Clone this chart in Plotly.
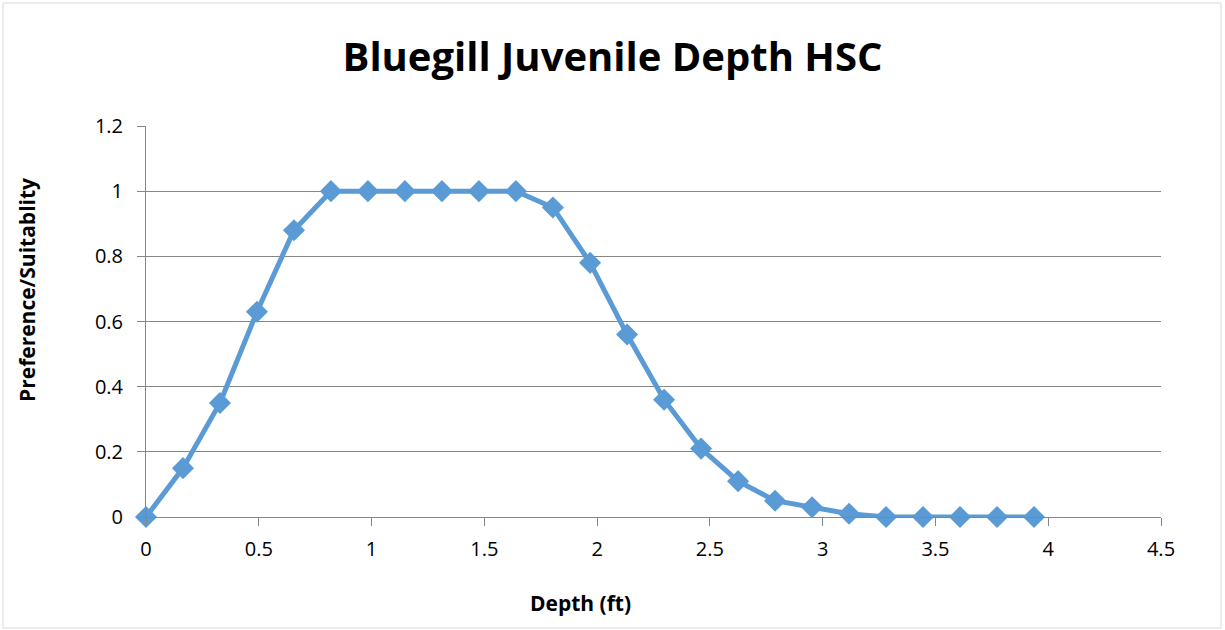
import plotly.graph_objects as go

depth_ft = [0.0, 0.164, 0.328, 0.492, 0.656, 0.820, 0.984, 1.148, 1.312, 1.476,
            1.640, 1.804, 1.969, 2.133, 2.297, 2.461, 2.625, 2.789, 2.953, 3.117,
            3.281, 3.445, 3.609, 3.773, 3.937]
suitability = [0.0, 0.15, 0.35, 0.63, 0.88, 1.0, 1.0, 1.0, 1.0, 1.0,
               1.0, 0.95, 0.78, 0.56, 0.36, 0.21, 0.11, 0.05, 0.03, 0.01,
               0.0, 0.0, 0.0, 0.0, 0.0]
x_ticks = [0, 0.5, 1, 1.5, 2, 2.5, 3, 3.5, 4, 4.5]
y_ticks = [0, 0.2, 0.4, 0.6, 0.8, 1, 1.2]

color = "#5B9BD5"
axis_gray = "#868686"
font_family = "Open Sans, Liberation Sans, sans-serif"

fig = go.Figure()
fig.add_trace(go.Scatter(
    x=depth_ft, y=suitability, mode="lines+markers",
    line=dict(color=color, width=5),
    marker=dict(symbol="diamond", size=17, color=color),
    showlegend=False, cliponaxis=False,
))

W, H = 1225, 630
L, R, T, B = 146, 64, 126, 113
pw, ph = W - L - R, H - T - B

def px_to_paper_x(px):
    return (px - L) / pw

def px_to_paper_y(py):
    return (H - B - py) / ph

fig.update_layout(
    width=W, height=H,
    margin=dict(l=L, r=R, t=T, b=B),
    paper_bgcolor="white", plot_bgcolor="white",
    title=dict(text="<b>Bluegill Juvenile Depth HSC</b>", x=0.5, xanchor="center",
               y=1 - 57 / H, yanchor="middle",
               font=dict(family=font_family, size=40, color="black")),
    font=dict(family=font_family, color="black"),
    xaxis=dict(range=[0, 4.5], tickvals=x_ticks, ticktext=[str(v) for v in x_ticks],
               showgrid=False, zeroline=False, showline=True, linecolor=axis_gray,
               linewidth=1, ticks="outside", ticklen=8, tickcolor=axis_gray,
               ticklabelstandoff=6, tickfont=dict(size=20)),
    yaxis=dict(range=[0, 1.2], tickvals=y_ticks, ticktext=[str(v) for v in y_ticks],
               showgrid=True, gridcolor=axis_gray, gridwidth=1, zeroline=False,
               showline=True, linecolor=axis_gray, linewidth=1, ticks="outside",
               ticklen=8, tickcolor=axis_gray, ticklabelstandoff=10,
               tickfont=dict(size=20)),
    annotations=[
        dict(text="<b>Depth (ft)</b>", xref="paper", yref="paper",
             x=px_to_paper_x(580), y=px_to_paper_y(603), showarrow=False,
             xanchor="center", yanchor="middle", font=dict(size=21)),
        dict(text="<b>Preference/Suitablity</b>", xref="paper", yref="paper",
             x=px_to_paper_x(27), y=px_to_paper_y(290), showarrow=False,
             textangle=-90, xanchor="center", yanchor="middle", font=dict(size=21)),
    ],
    shapes=[dict(type="rect", xref="paper", yref="paper",
                 x0=px_to_paper_x(3), x1=px_to_paper_x(1221),
                 y0=px_to_paper_y(628), y1=px_to_paper_y(3),
                 line=dict(color="#D9D9D9", width=1), fillcolor="rgba(0,0,0,0)",
                 layer="below")],
)

fig.write_html("out.html", config={"displayModeBar": False},
               post_script="document.body.style.margin='0';document.body.style.overflow='hidden';")
